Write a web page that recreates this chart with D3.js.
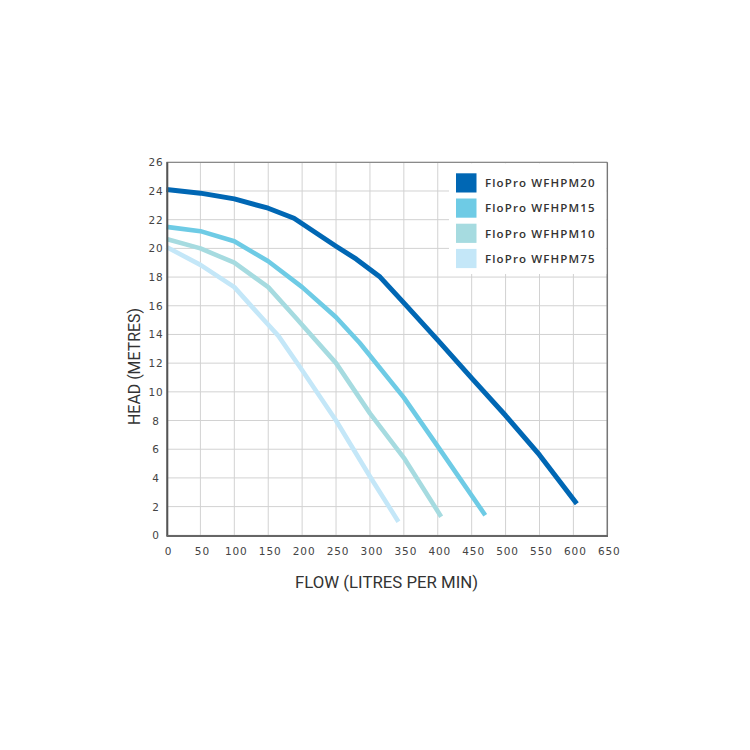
<!DOCTYPE html>
<html><head><meta charset="utf-8">
<script src="https://cdn.jsdelivr.net/npm/d3@7"></script>
<style>body{margin:0;background:#fff}</style>
</head><body>
<svg id="c" width="750" height="750"></svg>
<script>
const seriesNames = ["FloPro WFHPM20","FloPro WFHPM15","FloPro WFHPM10","FloPro WFHPM75"];
const colors = ["#0067b4","#6ecbe5","#a6dbe0","#c4e7f8"];
const flow20 = [0,50,100,150,188,250,280,315,350,400,450,500,550,605];
const head20 = [24.1,23.85,23.45,22.8,22.1,20.15,19.25,18.0,16.2,13.6,10.95,8.35,5.6,2.2];
const flow15 = [0,50,100,150,200,250,285,350,400,470];
const head15 = [21.5,21.2,20.5,19.1,17.3,15.2,13.4,9.6,6.2,1.4];
const flow10 = [0,50,100,150,190,250,300,350,405];
const head10 = [20.65,20.0,19.0,17.3,15.2,12.0,8.5,5.4,1.3];
const flow75 = [0,50,100,140,165,200,250,300,342];
const head75 = [20.1,18.85,17.3,15.2,13.9,11.5,8.0,4.1,0.95];
const xTicks = [0,50,100,150,200,250,300,350,400,450,500,550,600,650];
const yTicks = [0,2,4,6,8,10,12,14,16,18,20,22,24,26];
const xTitle = "FLOW (LITRES PER MIN)";
const yTitle = "HEAD (METRES)";

const series = [[flow20,head20],[flow15,head15],[flow10,head10],[flow75,head75]];
const svg = d3.select("#c");
const x = d3.scaleLinear().domain([0,650]).range([166.5,607.3]);
const y = d3.scaleLinear().domain([0,26]).range([535.3,162.3]);

// grid
const g = svg.append("g");
g.selectAll(".vx").data(xTicks).join("line")
  .attr("x1",d=>x(d)).attr("x2",d=>x(d)).attr("y1",y(26)).attr("y2",y(0))
  .attr("stroke","#d2d2d2").attr("stroke-width",1);
g.selectAll(".hy").data(yTicks).join("line")
  .attr("x1",x(0)).attr("x2",x(650)).attr("y1",d=>y(d)).attr("y2",d=>y(d))
  .attr("stroke","#d2d2d2").attr("stroke-width",1);

// border top/right
svg.append("line").attr("x1",x(0)).attr("x2",x(650)).attr("y1",y(26)).attr("y2",y(26)).attr("stroke","#8a8a8a").attr("stroke-width",1.2);
svg.append("line").attr("x1",x(650)).attr("x2",x(650)).attr("y1",y(26)).attr("y2",y(0)).attr("stroke","#777").attr("stroke-width",1.5);

// legend background
const lgX = 449, lgY = y(26)+1;
svg.append("rect").attr("x",lgX).attr("y",lgY).attr("width",x(650)-lgX-1).attr("height",274-lgY).attr("fill","#fff");

// lines
const line = d3.line().x(d=>x(d[0])).y(d=>y(d[1]));
series.forEach((s,i)=>{
  const pts = s[0].map((f,k)=>[f,s[1][k]]);
  svg.append("path").datum(pts).attr("d",line).attr("fill","none")
    .attr("stroke",colors[i]).attr("stroke-width",i===0?5:4.6)
    .attr("stroke-linejoin","round");
});

// axes lines
svg.append("line").attr("x1",x(0)+0.8).attr("x2",x(0)+0.8).attr("y1",y(26)).attr("y2",y(0)+1).attr("stroke","#555").attr("stroke-width",2);
svg.append("line").attr("x1",x(0)).attr("x2",x(650)+0.7).attr("y1",y(0)+0.8).attr("y2",y(0)+0.8).attr("stroke","#666").attr("stroke-width",2);

// tick labels
svg.selectAll(".xl").data(xTicks).join("text")
  .attr("x",d=>x(d)+2).attr("y",554.5).attr("text-anchor","middle")
  .attr("font-family","DejaVu Sans").attr("font-size",10.5).attr("letter-spacing",0.9)
  .attr("fill","#444").text(d=>d);
svg.selectAll(".yl").data(yTicks).join("text")
  .attr("x",156).attr("y",d=>y(d)+4).attr("text-anchor","middle")
  .attr("font-family","DejaVu Sans").attr("font-size",10.5).attr("letter-spacing",0.9)
  .attr("fill","#444").text(d=>d);

// titles
svg.append("text").attr("x",386.5).attr("y",588).attr("text-anchor","middle")
  .attr("font-family","Roboto").attr("font-size",17).attr("fill","#333")
  .attr("textLength",183).attr("lengthAdjust","spacingAndGlyphs").text(xTitle);
svg.append("text").attr("transform","translate(139.5,366.5) rotate(-90)").attr("text-anchor","middle")
  .attr("font-family","Roboto").attr("font-size",17).attr("fill","#333")
  .attr("textLength",117).attr("lengthAdjust","spacingAndGlyphs").text(yTitle);

// legend
seriesNames.forEach((n,i)=>{
  const yy = 173.3 + i*25.2;
  svg.append("rect").attr("x",456).attr("y",yy).attr("width",20.5).attr("height",19.2).attr("fill",colors[i]);
  svg.append("text").attr("x",485).attr("y",yy+13.8)
    .attr("font-family","Open Sans").attr("font-weight",600).attr("font-size",11.5)
    .attr("letter-spacing",0.5).attr("fill","#333")
    .attr("textLength",110).attr("lengthAdjust","spacing").text(n);
});
</script>
</body></html>
